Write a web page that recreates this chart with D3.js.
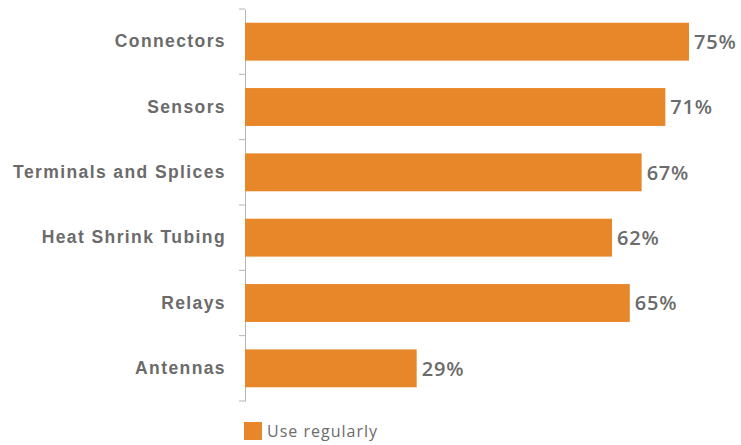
<!DOCTYPE html>
<html>
<head>
<meta charset="utf-8">
<script src="https://cdn.jsdelivr.net/npm/d3@7"></script>
<style>
  body { margin: 0; background: #fff; }
  svg { font-family: "Open Sans", "Lato", sans-serif; }
</style>
</head>
<body>
<div id="chart"></div>
<script>
// 數據
const categories = ["Connectors", "Sensors", "Terminals and Splices", "Heat Shrink Tubing", "Relays", "Antennas"];
const useRegularly = [75, 71, 67, 62, 65, 29];
const seriesName = "Use regularly";

const width = 741, height = 445;
const margin = { top: 9, left: 245, bottom: 44 };
const barColor = "#e8872a";
const textColor = "#6b6b6b";

const svg = d3.select("#chart")
    .append("svg")
    .attr("width", width)
    .attr("height", height);

const x = d3.scaleLinear()
    .domain([0, 100])
    .range([margin.left, margin.left + 592]);

const y = d3.scaleBand()
    .domain(categories)
    .range([margin.top, 401])
    .paddingInner(0.42)
    .paddingOuter(0.21);

// Y軸
const yAxis = svg.append("g")
    .attr("transform", `translate(${margin.left},0)`)
    .call(d3.axisLeft(y).tickSize(0).tickPadding(19));

yAxis.select(".domain").attr("stroke", "#b5b5b5");
yAxis.selectAll("text")
    .attr("fill", textColor)
    .attr("font-size", "17.5px")
    .attr("font-weight", 600)
    .attr("letter-spacing", "1.4px");

// 分隔刻度
const step = y.step();
const boundaries = d3.range(categories.length + 1).map(i => margin.top + i * step);
svg.selectAll(".sep")
    .data(boundaries)
    .enter()
    .append("line")
    .attr("class", "sep")
    .attr("x1", margin.left - 6)
    .attr("x2", margin.left)
    .attr("y1", d => d)
    .attr("y2", d => d)
    .attr("stroke", "#b5b5b5");

// 柱形
svg.selectAll(".bar")
    .data(useRegularly)
    .enter()
    .append("rect")
    .attr("class", "bar")
    .attr("x", x(0))
    .attr("y", (d, i) => y(categories[i]))
    .attr("width", d => x(d) - x(0))
    .attr("height", y.bandwidth())
    .attr("fill", barColor);

// 數值標籤
svg.selectAll(".val")
    .data(useRegularly)
    .enter()
    .append("text")
    .attr("class", "val")
    .attr("x", d => x(d) + 5)
    .attr("y", (d, i) => y(categories[i]) + y.bandwidth() / 2)
    .attr("dy", "0.36em")
    .attr("fill", textColor)
    .attr("font-size", "20px")
    .attr("font-weight", 600)
    .attr("letter-spacing", "0.8px")
    .text(d => d + "%");

// 圖例
const legend = svg.append("g")
    .attr("transform", `translate(${margin.left - 1}, 422)`);
legend.append("rect")
    .attr("width", 18)
    .attr("height", 18)
    .attr("fill", barColor);
legend.append("text")
    .attr("x", 23)
    .attr("y", 15)
    .attr("fill", textColor)
    .attr("font-size", "16px")
    .attr("letter-spacing", "1px")
    .text(seriesName);
</script>
</body>
</html>
